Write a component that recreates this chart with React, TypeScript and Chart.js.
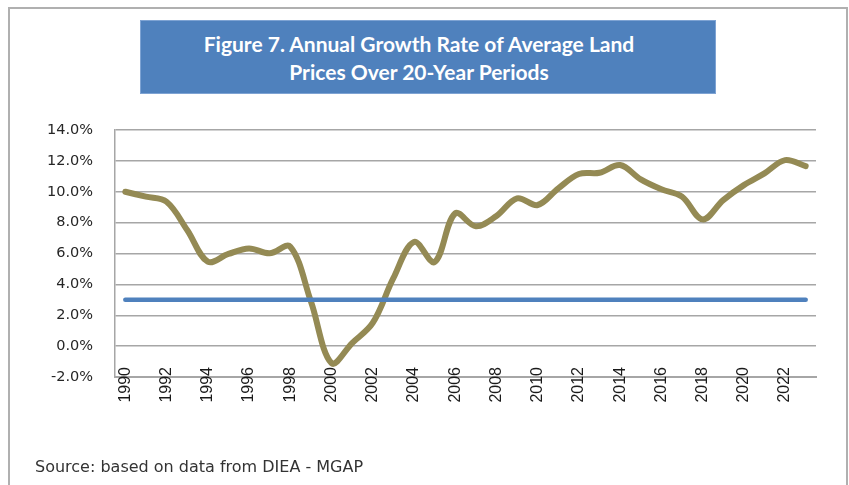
import React, { useEffect, useRef } from "react";
import { Chart, registerables } from "chart.js";

Chart.register(...registerables);

const years: string[] = [
  "1990", "1991", "1992", "1993", "1994", "1995", "1996", "1997", "1998", "1999",
  "2000", "2001", "2002", "2003", "2004", "2005", "2006", "2007", "2008", "2009",
  "2010", "2011", "2012", "2013", "2014", "2015", "2016", "2017", "2018", "2019",
  "2020", "2021", "2022", "2023",
];

const growthRate: number[] = [
  10.0, 9.68, 9.35, 7.52, 5.47, 5.97, 6.33, 6.01, 6.44, 2.9,
  -1.1, 0.2, 1.5, 4.4, 6.75, 5.45, 8.6, 7.76, 8.43, 9.57,
  9.14, 10.22, 11.15, 11.23, 11.73, 10.8, 10.16, 9.68, 8.21, 9.46,
  10.43, 11.19, 12.05, 11.66,
];

const referenceRate: number[] = years.map(() => 3.0);

const yTicks: number[] = [-2, 0, 2, 4, 6, 8, 10, 12, 14];

const titleLines: string[] = [
  "Figure 7. Annual Growth Rate of Average Land",
  "Prices Over 20-Year Periods",
];

const sourceText = "Source: based on data from DIEA - MGAP";

export default function App() {
  const canvasRef = useRef<HTMLCanvasElement | null>(null);

  useEffect(() => {
    const canvas = canvasRef.current;
    if (!canvas) return;
    const chart = new Chart(canvas, {
      type: "line",
      data: {
        labels: years,
        datasets: [
          {
            label: "Reference",
            data: referenceRate,
            borderColor: "#4F81BD",
            borderWidth: 4.5,
            pointRadius: 0,
            borderCapStyle: "round",
            tension: 0,
            fill: false,
          },
          {
            label: "Growth rate",
            data: growthRate,
            borderColor: "#948A54",
            borderWidth: 6,
            pointRadius: 0,
            tension: 0.35,
            borderCapStyle: "round",
            borderJoinStyle: "round",
            fill: false,
          },
        ],
      },
      options: {
        animation: false,
        responsive: false,
        maintainAspectRatio: false,
        layout: { padding: { left: 0, top: 130, right: 33, bottom: 0 } },
        plugins: {
          legend: { display: false },
          tooltip: { enabled: false },
          title: { display: false },
        },
        scales: {
          x: {
            type: "category",
            offset: true,
            grid: { display: false, drawTicks: false },
            border: { display: true, color: "#a6a6a6", width: 2 },
            ticks: {
              autoSkip: false,
              minRotation: 90,
              maxRotation: 90,
              padding: -10,
              color: "#1a1a1a",
              font: { family: "'Liberation Sans', Arial, sans-serif", size: 16 },
              callback: (_v: any, i: number) => (i % 2 === 0 ? years[i] : ""),
            },
            afterFit: (scale: any) => {
              scale.height = 108;
              scale._computeLabelArea = () => undefined;
            },
          },
          y: {
            min: -2,
            max: 14,
            grid: { color: "#a6a6a6", lineWidth: 1.5, drawTicks: false },
            border: { display: true, color: "#a6a6a6", width: 1.5 },
            afterBuildTicks: (scale: any) => {
              scale.ticks = yTicks.map((v) => ({ value: v }));
            },
            ticks: {
              padding: 22,
              color: "#262626",
              font: { family: "'DejaVu Sans', sans-serif", size: 14.5 },
              callback: (v: any) => Number(v).toFixed(1) + "%",
            },
            afterFit: (scale: any) => {
              scale.width = 115;
            },
          },
        },
      },
    });
    return () => chart.destroy();
  }, []);

  return (
    <div
      style={{
        position: "absolute",
        left: 0,
        top: 0,
        width: 849,
        height: 485,
        overflow: "hidden",
        background: "#ffffff",
      }}
    >
      <div
        style={{
          position: "absolute",
          left: 8,
          top: 7,
          width: 840,
          height: 520,
          border: "2px solid #b0b0b0",
          boxSizing: "border-box",
        }}
      />
      <canvas
        ref={canvasRef}
        width={849}
        height={485}
        style={{ position: "absolute", left: 0, top: 0, width: 849, height: 485 }}
      />
      <div
        style={{
          position: "absolute",
          left: 140,
          top: 20,
          width: 576,
          height: 74,
          background: "#4F81BD",
          boxSizing: "border-box",
          border: "1px solid #7ea3d3",
          display: "flex",
          flexDirection: "column",
          alignItems: "center",
          justifyContent: "center",
          paddingTop: 1,
          paddingRight: 18,
          color: "#ffffff",
          fontFamily: "Lato, 'Open Sans', sans-serif",
          fontWeight: 700,
          fontSize: 21,
          lineHeight: "28px",
        }}
      >
        {titleLines.map((t) => (
          <div key={t}>{t}</div>
        ))}
      </div>
      <div
        style={{
          position: "absolute",
          left: 35,
          top: 457,
          color: "#333333",
          fontFamily: "'DejaVu Sans', sans-serif",
          fontSize: 16,
          lineHeight: "20px",
          whiteSpace: "nowrap",
        }}
      >
        {sourceText}
      </div>
    </div>
  );
}
